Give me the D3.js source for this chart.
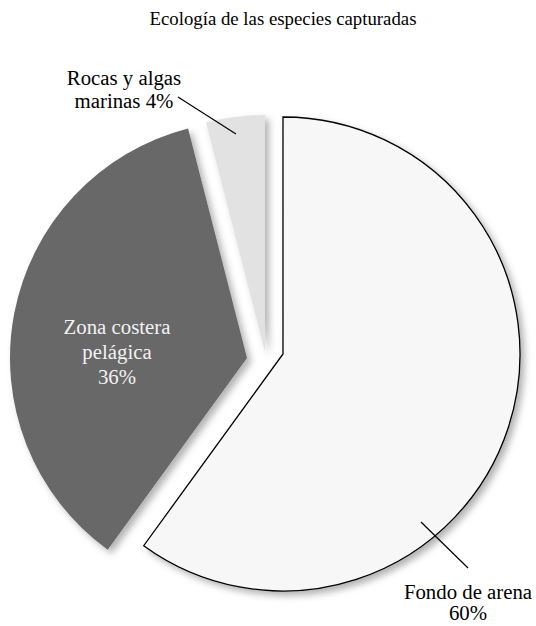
<!DOCTYPE html>
<html>
<head>
<meta charset="utf-8">
<script src="https://cdn.jsdelivr.net/npm/d3@7"></script>
<style>
    html, body { margin: 0; padding: 0; background: #fff; }
</style>
</head>
<body>
<svg id="Chart" width="536" height="626"></svg>
<script>
var TITLE = 'Ecología de las especies capturadas';
var categories = ['Fondo de arena', 'Zona costera pelágica', 'Rocas y algas marinas'];
var shares = [60, 36, 4];
var labelLines = [
    ['Fondo de arena', '60%'],
    ['Zona costera', 'pelágica', '36%'],
    ['Rocas y algas', 'marinas 4%']
];

(function(window) {
    'use strict';

    /******************************************************************
        layout
     ******************************************************************/
    var FONT = '"Liberation Serif", Tinos, "Times New Roman", Times, "DejaVu Serif", serif';
    var CX = 283, CY = 354, R = 237;

    var fills   = ['#f7f7f7', '#686868', '#e1e2e1'];
    var strokes = ['#000', 'none', 'none'];
    var textCol = ['#000', '#f2f2f2', '#000'];
    var shift   = [[0, 0], [-36, 4], [-18, -2]];   // pulled-out slices

    // label anchor (centre x, first baseline) and leader line
    var labelPos = [[468, 599], [117, 334], [124, 85]];
    var lineH    = [21, 25, 23];
    var leaders  = [[[421, 522], [468, 568]], null, [[178, 97], [236, 134]]];

    var svg = d3.select('#Chart');

    var defs = svg.append('defs');
    defs.append('filter')
        .attr('id', 'shadow')
        .attr('x', '-20%').attr('y', '-20%')
        .attr('width', '140%').attr('height', '140%')
      .append('feDropShadow')
        .attr('dx', 4).attr('dy', 4)
        .attr('stdDeviation', 3.5)
        .attr('flood-color', '#000')
        .attr('flood-opacity', 0.3);

    svg.append('text')
        .attr('x', CX).attr('y', 25)
        .attr('text-anchor', 'middle')
        .attr('font-family', FONT)
        .attr('font-size', 18.8)
        .text(TITLE);

    var pie = d3.pie().sort(null).value(function(d) { return d; });
    var arc = d3.arc().innerRadius(0).outerRadius(R);
    var slices = pie(shares);

    // draw back to front so the outlined slice sits on top
    var order = [1, 2, 0];

    svg.append('g')
        .selectAll('path')
        .data(order.map(function(i) { return slices[i]; }))
        .join('path')
            .attr('transform', function(d) {
                var s = shift[d.index];
                return 'translate(' + (CX + s[0]) + ',' + (CY + s[1]) + ')';
            })
            .attr('d', arc)
            .attr('fill', function(d) { return fills[d.index]; })
            .attr('stroke', function(d) { return strokes[d.index]; })
            .attr('stroke-width', 1.3)
            .attr('stroke-linejoin', 'miter')
            .attr('filter', 'url(#shadow)');

    /******************************************************************
        labels
     ******************************************************************/
    var lab = svg.append('g');

    categories.forEach(function(c, i) {
        if (leaders[i]) {
            lab.append('line')
                .attr('x1', leaders[i][0][0]).attr('y1', leaders[i][0][1])
                .attr('x2', leaders[i][1][0]).attr('y2', leaders[i][1][1])
                .attr('stroke', '#000')
                .attr('stroke-width', 1.2);
        }
        var t = lab.append('text')
            .attr('text-anchor', 'middle')
            .attr('fill', textCol[i])
            .attr('font-family', FONT)
            .attr('font-size', 20.8);
        labelLines[i].forEach(function(s, k) {
            t.append('tspan')
                .attr('x', labelPos[i][0])
                .attr('y', labelPos[i][1] + k * lineH[i])
                .text(s);
        });
    });
})(window);
</script>
</body>
</html>
